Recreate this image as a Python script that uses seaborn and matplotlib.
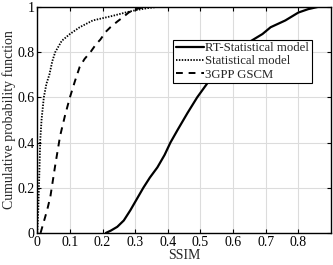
import numpy as np
import pandas as pd
import matplotlib
matplotlib.use("Agg")
import matplotlib.pyplot as plt
import seaborn as sns

# CDF curves
rt_x = [0.21, 0.225, 0.245, 0.265, 0.285, 0.305, 0.325, 0.345, 0.368, 0.39, 0.408, 0.43,
        0.46, 0.49, 0.52, 0.55, 0.58, 0.62, 0.65, 0.69, 0.715, 0.76, 0.80, 0.83, 0.86]
rt_y = [0.0, 0.01, 0.027, 0.055, 0.10, 0.15, 0.20, 0.245, 0.29, 0.345, 0.40, 0.456,
        0.53, 0.60, 0.66, 0.72, 0.76, 0.81, 0.845, 0.88, 0.91, 0.94, 0.975, 0.99, 1.0]

stat_x = [0.0, 0.003, 0.006, 0.009, 0.013, 0.02, 0.028, 0.037, 0.046, 0.055, 0.075, 0.1,
          0.13, 0.17, 0.23, 0.27, 0.3, 0.34, 0.37]
stat_y = [0.0, 0.1, 0.25, 0.41, 0.5, 0.6, 0.66, 0.7, 0.76, 0.8, 0.85, 0.88,
          0.91, 0.94, 0.96, 0.975, 0.985, 0.995, 1.0]

gscm_x = [0.01, 0.02, 0.03, 0.04, 0.055, 0.07, 0.085, 0.1, 0.115, 0.13, 0.145, 0.163,
          0.18, 0.193, 0.21, 0.224, 0.245, 0.264, 0.28, 0.295, 0.315, 0.34]
gscm_y = [0.0, 0.05, 0.1, 0.16, 0.3, 0.43, 0.52, 0.6, 0.67, 0.735, 0.77, 0.80,
          0.835, 0.855, 0.89, 0.91, 0.935, 0.956, 0.975, 0.987, 0.995, 1.0]

sns.set_style("whitegrid")
plt.rcParams['font.family'] = ['Liberation Serif', 'DejaVu Serif']

fig, ax = plt.subplots(figsize=(3.33, 2.65), dpi=100)
fig.subplots_adjust(left=0.112, right=0.994, top=0.974, bottom=0.121)

sns.lineplot(x=rt_x, y=rt_y, ax=ax, color='black', lw=1.6, sort=False,
             label='RT-Statistical model')
sns.lineplot(x=stat_x, y=stat_y, ax=ax, color='black', lw=1.3, sort=False,
             linestyle=(0, (0.8, 0.8)), label='Statistical model')
sns.lineplot(x=gscm_x, y=gscm_y, ax=ax, color='black', lw=1.4, sort=False,
             linestyle=(0, (3.5, 3)), label='3GPP GSCM')

ax.set_xlim(0, 0.9)
ax.set_ylim(0, 1)
ax.set_xticks([0, 0.1, 0.2, 0.3, 0.4, 0.5, 0.6, 0.7, 0.8])
ax.set_xticklabels(['0', '0.1', '0.2', '0.3', '0.4', '0.5', '0.6', '0.7', '0.8'])
ax.set_yticks([0, 0.2, 0.4, 0.6, 0.8, 1])
ax.set_yticklabels(['0', '0.2', '0.4', '0.6', '0.8', '1'])
ax.grid(True, color='#dcdcdc', lw=0.8)
for s in ax.spines.values():
    s.set_color('black')
    s.set_linewidth(1.0)
ax.tick_params(direction='in', length=3, width=0.8, colors='black', labelsize=10,
               top=True, right=True, bottom=True, left=True, pad=2)
ax.set_xlabel('SSIM', fontsize=10, labelpad=0)
ax.set_ylabel('Cumulative probability function', fontsize=10, labelpad=1)

leg = ax.legend(loc='upper left', bbox_to_anchor=(0.463, 0.855), fontsize=9.2,
                frameon=True, fancybox=False, framealpha=1, edgecolor='black',
                handlelength=2.2, handletextpad=0.1, borderpad=0.2,
                labelspacing=0.1, borderaxespad=0)
leg.get_frame().set_linewidth(0.8)

fig.savefig('out.png', dpi=100)
